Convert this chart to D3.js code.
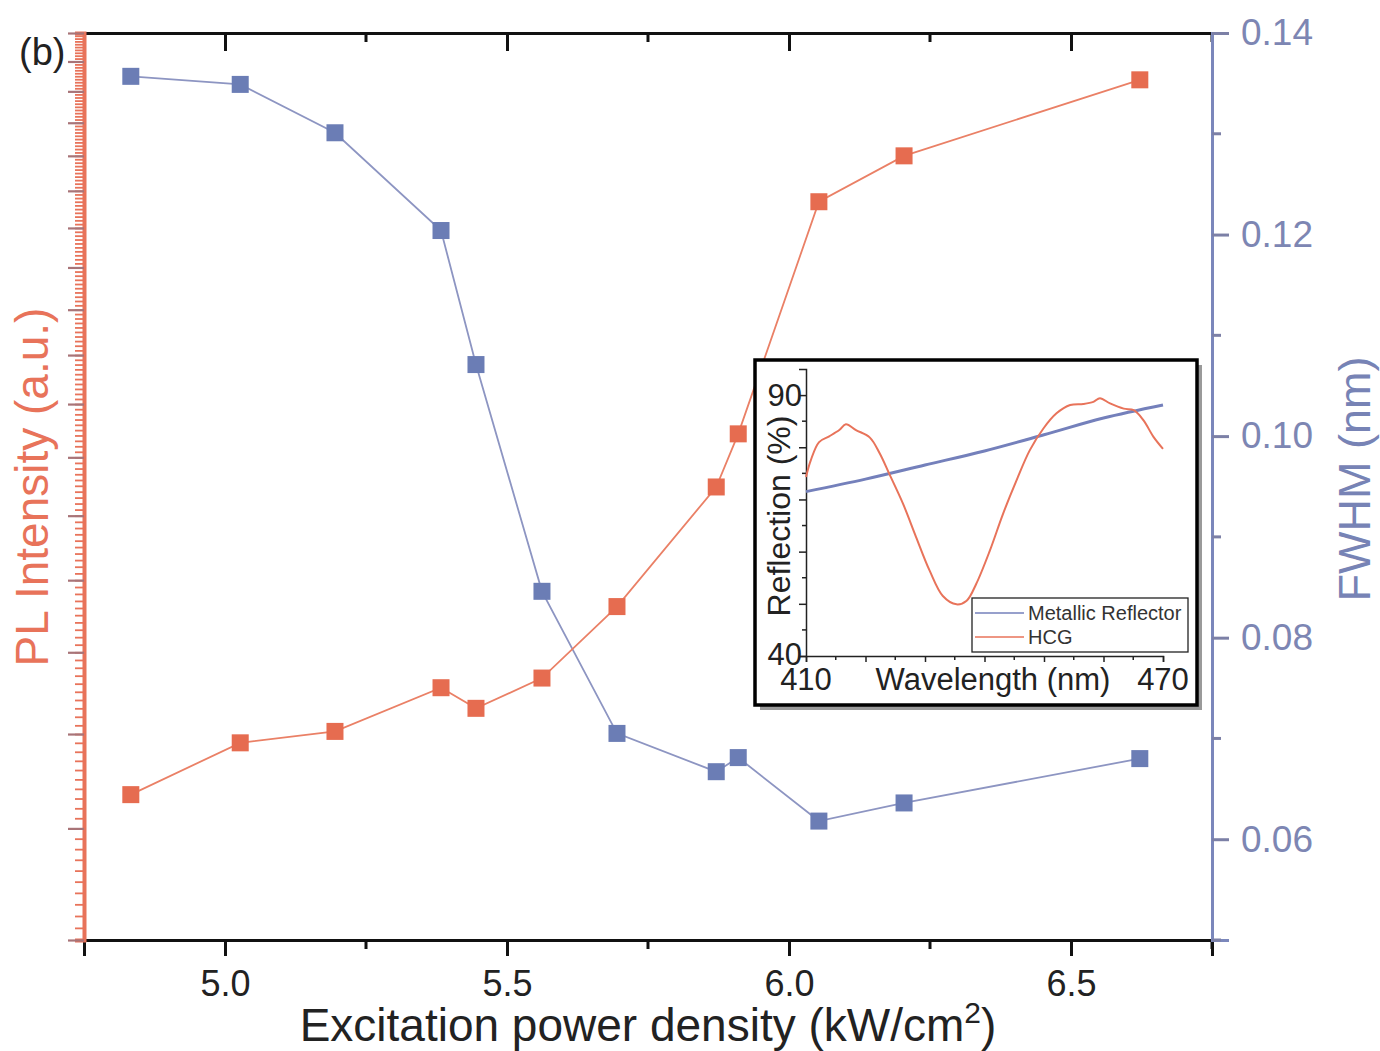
<!DOCTYPE html>
<html>
<head>
<meta charset="utf-8">
<script src="https://cdn.jsdelivr.net/npm/d3@7"></script>
<style>
  body { margin: 0; background: #fff; }
  svg text { font-family: "Liberation Sans", Arial, sans-serif; }
</style>
</head>
<body>
<div id="viz"></div>
<script>
// excitation power density (kW/cm2), shared by both series
var power = [4.833, 5.027, 5.195, 5.383, 5.445, 5.562, 5.695, 5.871, 5.910, 6.053, 6.204, 6.622];
// PL intensity (a.u., log axis)
var plIntensity = [6.34, 6.90, 7.03, 7.55, 7.30, 7.67, 8.62, 10.48, 11.43, 16.70, 18.00, 20.38];
// FWHM (nm)
var fwhm = [0.1357, 0.1349, 0.1301, 0.1204, 0.1071, 0.0846, 0.0705, 0.0667, 0.0681, 0.0618, 0.0636, 0.0680];

var xTicks = [5.0, 5.5, 6.0, 6.5];
var xMinorTicks = [5.25, 5.75, 6.25, 6.75];
var fwhmTicks = [0.06, 0.08, 0.10, 0.12, 0.14];
var fwhmMinorTicks = [0.05, 0.07, 0.09, 0.11, 0.13];

// inset: reflection spectra
var hcgWl = [410.0, 410.8, 412.2, 413.9, 415.6, 416.7, 418.4, 420.7, 422.4, 424.0, 426.3, 428.5, 430.8, 433.0, 435.3, 437.0, 438.6, 440.9, 443.1, 445.4, 447.6, 449.9, 452.1, 454.4, 456.6, 458.3, 459.4, 461.1, 463.4, 465.1, 466.7, 468.4, 470.0];
var hcgRefl = [74.3, 77.5, 81.0, 82.1, 83.3, 84.4, 83.3, 81.9, 78.8, 74.9, 69.2, 62.8, 56.3, 51.5, 49.9, 50.6, 53.8, 60.2, 67.2, 73.7, 79.4, 83.6, 86.5, 88.1, 88.3, 88.7, 89.4, 88.4, 87.4, 87.1, 85.2, 82.0, 79.7];
var metalWl = [410, 420, 430, 440, 450, 460, 470];
var metalRefl = [71.5, 73.9, 76.6, 79.3, 82.4, 85.6, 88.1];

var W = 1380, H = 1051;
var orange = "#e66c50", orangeLine = "#ea8066", orangeAxis = "#e8735a";
var blue = "#6b7db5", blueLine = "#8d95c2", blueAxis = "#7b87bb", blueText = "#7d86b3";

var svg = d3.select("#viz").append("svg").attr("width", W).attr("height", H);

var L = 84, R = 1212, T = 33, B = 940;

var x = d3.scaleLinear().domain([4.75, 6.75]).range([L, R]);
var yPL = d3.scaleLog().domain([5, 22]).range([B, T]);
var yF = d3.scaleLinear().domain([0.05, 0.14]).range([B, T]);

// top axis (ticks inward)
var gTop = svg.append("g").attr("transform", "translate(0," + T + ")");
gTop.call(d3.axisBottom(x).tickValues(xTicks).tickSize(18).tickFormat(""));
gTop.selectAll(".minor").data(xMinorTicks).enter().append("line")
  .attr("x1", function (d) { return x(d); }).attr("x2", function (d) { return x(d); })
  .attr("y1", 0).attr("y2", 9);

// bottom axis
var gBot = svg.append("g").attr("transform", "translate(0," + B + ")")
  .call(d3.axisBottom(x).tickValues(xTicks).tickSize(16).tickPadding(14).tickFormat(d3.format(".1f")));
gBot.selectAll(".minor").data(xMinorTicks).enter().append("line")
  .attr("x1", function (d) { return x(d); }).attr("x2", function (d) { return x(d); })
  .attr("y1", 0).attr("y2", 9);

[gTop, gBot].forEach(function (g) {
  g.select(".domain").attr("stroke", "#111").attr("stroke-width", 3);
  g.selectAll("line").attr("stroke", "#111").attr("stroke-width", 3);
  g.selectAll("text").attr("font-size", 36).attr("fill", "#222");
});

// left log axis: minor ticks every 0.1, medium ticks every 1
var plMinor = d3.range(50, 221).map(function (d) { return d / 10; });
var plMedium = d3.range(5, 23);
var gLeftMinor = svg.append("g").attr("transform", "translate(" + L + ",0)")
  .call(d3.axisLeft(yPL).tickValues(plMinor).tickSize(9).tickFormat(""));
gLeftMinor.selectAll("line").attr("stroke", orangeAxis).attr("stroke-width", 1.8);
gLeftMinor.select(".domain").attr("stroke", orangeAxis).attr("stroke-width", 4);
var gLeftMed = svg.append("g").attr("transform", "translate(" + L + ",0)")
  .call(d3.axisLeft(yPL).tickValues(plMedium).tickSize(16).tickFormat(""));
gLeftMed.selectAll("line").attr("stroke", "#a87478").attr("stroke-width", 2.2);
gLeftMed.select(".domain").remove();

// right axis
var gRight = svg.append("g").attr("transform", "translate(" + R + ",0)")
  .call(d3.axisRight(yF).tickValues(fwhmTicks).tickSize(17).tickPadding(12).tickFormat(d3.format(".2f")));
gRight.selectAll(".minor").data(fwhmMinorTicks).enter().append("line")
  .attr("x1", 0).attr("x2", 9)
  .attr("y1", function (d) { return yF(d); }).attr("y2", function (d) { return yF(d); });
gRight.select(".domain").attr("stroke", blueAxis).attr("stroke-width", 3);
gRight.selectAll("line").attr("stroke", "#7c80a6").attr("stroke-width", 3);
gRight.selectAll("text").attr("font-size", 37).attr("fill", blueText);

// series
var ptsF = power.map(function (p, i) { return [p, fwhm[i]]; });
var ptsPL = power.map(function (p, i) { return [p, plIntensity[i]]; });

svg.append("path").datum(ptsF).attr("fill", "none").attr("stroke", blueLine).attr("stroke-width", 1.8)
  .attr("d", d3.line().x(function (d) { return x(d[0]); }).y(function (d) { return yF(d[1]); }));
svg.selectAll(".mF").data(ptsF).enter().append("rect")
  .attr("x", function (d) { return x(d[0]) - 8.5; }).attr("y", function (d) { return yF(d[1]) - 8.5; })
  .attr("width", 17).attr("height", 17).attr("fill", blue);

svg.append("path").datum(ptsPL).attr("fill", "none").attr("stroke", orangeLine).attr("stroke-width", 1.8)
  .attr("d", d3.line().x(function (d) { return x(d[0]); }).y(function (d) { return yPL(d[1]); }));
svg.selectAll(".mPL").data(ptsPL).enter().append("rect")
  .attr("x", function (d) { return x(d[0]) - 8.5; }).attr("y", function (d) { return yPL(d[1]) - 8.5; })
  .attr("width", 17).attr("height", 17).attr("fill", orange);

// labels
svg.append("text").attr("x", 19).attr("y", 65).attr("font-size", 38).attr("fill", "#222").text("(b)");

svg.append("text").attr("transform", "translate(48,487) rotate(-90)")
  .attr("text-anchor", "middle").attr("font-size", 46).attr("fill", orangeAxis).text("PL Intensity (a.u.)");

svg.append("text").attr("transform", "translate(1370,479) rotate(-90)")
  .attr("text-anchor", "middle").attr("font-size", 45).attr("fill", "#7783b5").text("FWHM (nm)");

var xl = svg.append("text").attr("x", 648).attr("y", 1041).attr("text-anchor", "middle")
  .attr("font-size", 46).attr("fill", "#222");
xl.append("tspan").text("Excitation power density (kW/cm");
xl.append("tspan").attr("dy", -18).attr("font-size", 30).text("2");
xl.append("tspan").attr("dy", 18).text(")");

// ---------- inset ----------
var inset = svg.append("g");
inset.append("rect").attr("x", 760).attr("y", 365).attr("width", 442).attr("height", 345).attr("fill", "#9a9a9a");
inset.append("rect").attr("x", 755).attr("y", 360).attr("width", 442).attr("height", 345)
  .attr("fill", "#fff").attr("stroke", "#000").attr("stroke-width", 3.5);

var ix = d3.scaleLinear().domain([410, 470]).range([806, 1163]);
var iy = d3.scaleLinear().domain([40, 95]).range([656, 369]);

var giB = inset.append("g").attr("transform", "translate(0,656)")
  .call(d3.axisBottom(ix).tickValues(d3.range(410, 471, 10)).tickSize(6).tickFormat(""));
giB.selectAll(".minor").data(d3.range(415, 470, 10)).enter().append("line")
  .attr("x1", function (d) { return ix(d); }).attr("x2", function (d) { return ix(d); })
  .attr("y1", 0).attr("y2", 4);
var giL = inset.append("g").attr("transform", "translate(806,0)")
  .call(d3.axisLeft(iy).tickValues(d3.range(40, 91, 10)).tickSize(7).tickFormat(""));
giL.selectAll(".minor").data(d3.range(45, 90, 10)).enter().append("line")
  .attr("x1", 0).attr("x2", -4)
  .attr("y1", function (d) { return iy(d); }).attr("y2", function (d) { return iy(d); });
[giB, giL].forEach(function (g) {
  g.select(".domain").attr("stroke", "#222").attr("stroke-width", 1.5);
  g.selectAll("line").attr("stroke", "#222").attr("stroke-width", 1.5);
});

inset.append("text").attr("x", 802).attr("y", 406).attr("text-anchor", "end").attr("font-size", 31).attr("fill", "#222").text("90");
inset.append("text").attr("x", 802).attr("y", 665).attr("text-anchor", "end").attr("font-size", 31).attr("fill", "#222").text("40");
inset.append("text").attr("x", ix(410)).attr("y", 690).attr("text-anchor", "middle").attr("font-size", 31).attr("fill", "#222").text("410");
inset.append("text").attr("x", ix(470)).attr("y", 690).attr("text-anchor", "middle").attr("font-size", 31).attr("fill", "#222").text("470");
inset.append("text").attr("x", 993).attr("y", 690).attr("text-anchor", "middle").attr("font-size", 31).attr("fill", "#222").text("Wavelength (nm)");
inset.append("text").attr("transform", "translate(790,516) rotate(-90)").attr("text-anchor", "middle")
  .attr("font-size", 32).attr("fill", "#222").text("Reflection (%)");

var iline = d3.line().x(function (d) { return ix(d[0]); }).y(function (d) { return iy(d[1]); }).curve(d3.curveCatmullRom);
inset.append("path").datum(metalWl.map(function (w, i) { return [w, metalRefl[i]]; }))
  .attr("fill", "none").attr("stroke", "#7480bb").attr("stroke-width", 3).attr("d", iline);
inset.append("path").datum(hcgWl.map(function (w, i) { return [w, hcgRefl[i]]; }))
  .attr("fill", "none").attr("stroke", "#e8735a").attr("stroke-width", 2).attr("d", iline);

// inset legend
var leg = inset.append("g");
leg.append("rect").attr("x", 972).attr("y", 598).attr("width", 216).attr("height", 54)
  .attr("fill", "#fff").attr("stroke", "#222").attr("stroke-width", 1.3);
var legItems = ["Metallic Reflector", "HCG"];
var legColors = ["#7480bb", "#e8735a"];
legItems.forEach(function (t, i) {
  var yy = 613 + i * 24;
  leg.append("line").attr("x1", 975).attr("x2", 1024).attr("y1", yy).attr("y2", yy)
    .attr("stroke", legColors[i]).attr("stroke-width", 1.6);
  leg.append("text").attr("x", 1028).attr("y", yy + 7).attr("font-size", 20).attr("fill", "#333").text(t);
});
</script>
</body>
</html>
